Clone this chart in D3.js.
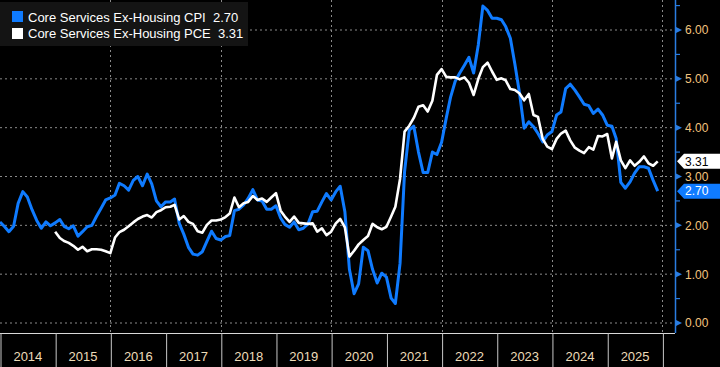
<!DOCTYPE html>
<html>
<head>
<meta charset="utf-8">
<script src="https://cdn.jsdelivr.net/npm/d3@7"></script>
<style>
  body { margin: 0; background: #000; }
  svg { display: block; }
</style>
</head>
<body>
<div id="chart"></div>
<script>
// Monthly series, Jan 2014 - Dec 2025 (YoY %)
const cpiStart = [2014, 0];
const cpiValues = [
  2.07, 1.97, 1.87, 1.98, 2.45, 2.69, 2.58, 2.32, 2.10, 1.94, 2.07, 1.99,
  2.05, 2.12, 1.98, 1.93, 1.99, 1.78, 1.87, 1.97, 2.00, 2.18, 2.35, 2.52,
  2.56, 2.62, 2.86, 2.81, 2.72, 2.92, 3.00, 2.81, 3.05, 2.85, 2.50, 2.38,
  2.48, 2.48, 2.54, 2.04, 1.82, 1.55, 1.41, 1.39, 1.46, 1.67, 1.88, 1.73,
  1.70, 1.77, 1.79, 2.30, 2.33, 2.42, 2.55, 2.73, 2.52, 2.50, 2.33, 2.33,
  2.40, 2.15, 2.02, 1.96, 2.07, 1.91, 1.94, 2.03, 2.28, 2.29, 2.48, 2.65,
  2.52, 2.69, 2.80, 2.28, 1.10, 0.60, 0.80, 1.55, 1.48, 1.10, 0.82, 1.02,
  0.94, 0.51, 0.40, 1.22, 3.10, 3.95, 4.03, 3.50, 3.08, 3.08, 3.50, 3.45,
  3.70, 4.20, 4.62, 4.95, 5.12, 5.28, 5.44, 5.12, 5.70, 6.49, 6.40, 6.24,
  6.24, 6.21, 6.07, 5.83, 5.30, 4.70, 3.99, 4.12, 4.02, 3.88, 3.71, 3.85,
  3.92, 4.26, 4.32, 4.80, 4.89, 4.77, 4.63, 4.48, 4.45, 4.29, 4.38, 4.26,
  4.05, 4.03, 3.78, 2.88, 2.76, 2.89, 3.07, 3.20, 3.20, 3.17, 2.92, 2.70
];

// Jan 2015 - Dec 2025
const pceStart = [2015, 0];
const pceValues = [
  1.87, 1.74, 1.68, 1.64, 1.58, 1.50, 1.56, 1.47, 1.51, 1.51, 1.50, 1.47,
  1.43, 1.75, 1.86, 1.91, 1.98, 2.06, 2.13, 2.18, 2.21, 2.16, 2.27, 2.31,
  2.37, 2.38, 2.42, 2.12, 2.19, 2.07, 2.03, 1.88, 1.85, 2.01, 2.10, 2.10,
  2.12, 2.17, 2.24, 2.57, 2.37, 2.45, 2.48, 2.60, 2.52, 2.55, 2.48, 2.57,
  2.66, 2.30, 2.18, 2.07, 2.18, 2.05, 2.04, 2.03, 2.04, 1.87, 1.94, 1.80,
  1.87, 2.04, 2.13, 1.96, 1.36, 1.48, 1.61, 1.70, 1.78, 2.03, 1.96, 1.92,
  1.97, 2.18, 2.38, 2.95, 3.92, 4.04, 4.20, 4.43, 4.46, 4.33, 4.55, 5.08,
  5.20, 5.04, 5.03, 5.03, 4.99, 5.03, 4.92, 4.67, 5.00, 5.24, 5.33, 5.15,
  4.98, 5.01, 4.97, 4.79, 4.77, 4.70, 4.56, 4.69, 4.26, 4.22, 3.77, 3.61,
  3.56, 3.77, 3.88, 3.94, 3.74, 3.59, 3.53, 3.48, 3.60, 3.55, 3.83, 3.82,
  3.87, 3.37, 3.71, 3.33, 3.17, 3.33, 3.22, 3.30, 3.41, 3.27, 3.22, 3.31
];

const seriesNames = ['Core Services Ex-Housing CPI', 'Core Services Ex-Housing PCE'];
const seriesColors = ['#0f7bff', '#ffffff'];
const yTicks = [0, 1, 2, 3, 4, 5, 6];
const yearLabels = d3.range(2014, 2026);

const toSeries = (start, values) =>
  values.map((v, i) => ({ date: new Date(start[0], start[1] + i, 1), value: v }));

const cpi = toSeries(cpiStart, cpiValues);
const pce = toSeries(pceStart, pceValues);

const width = 720, height = 367;
const plot = { left: 0, right: 675, top: 0, bottom: 333 };

const svg = d3.select('#chart')
  .append('svg')
  .attr('width', width)
  .attr('height', height)
  .style('background', '#000');

// scales
const x = d3.scaleTime()
  .domain([new Date(2014, 0, 1), new Date(2026, 0, 1)])
  .range([0, 662.4]);

const y = d3.scaleLinear()
  .domain([0, 6])
  .range([323, 30]);

// dotted grid
svg.append('g')
  .selectAll('line')
  .data(yTicks)
  .enter()
  .append('line')
    .attr('x1', plot.left)
    .attr('x2', plot.right)
    .attr('y1', d => y(d))
    .attr('y2', d => y(d))
    .attr('stroke', '#8a8a8a')
    .attr('stroke-width', 1)
    .attr('stroke-dasharray', '2,3');

svg.append('g')
  .selectAll('line')
  .data(d3.range(2016, 2027, 2))
  .enter()
  .append('line')
    .attr('x1', d => Math.round(x(new Date(d, 0, 1))) + 0.5)
    .attr('x2', d => Math.round(x(new Date(d, 0, 1))) + 0.5)
    .attr('y1', plot.top)
    .attr('y2', plot.bottom)
    .attr('stroke', '#8a8a8a')
    .attr('stroke-width', 1)
    .attr('stroke-dasharray', '2,3');

// legend
const legend = svg.append('g');
legend.append('rect')
  .attr('x', 0)
  .attr('y', 2)
  .attr('width', 248)
  .attr('height', 44)
  .attr('fill', '#141414');

const lastVals = [cpiValues[cpiValues.length - 1], pceValues[pceValues.length - 1]];
seriesNames.forEach((name, i) => {
  legend.append('rect')
    .attr('x', 12)
    .attr('y', 11 + i * 17)
    .attr('width', 11)
    .attr('height', 11)
    .attr('fill', seriesColors[i]);
  legend.append('text')
    .attr('x', 28)
    .attr('y', 21.5 + i * 16.5)
    .attr('fill', '#ffffff')
    .style('font-family', 'Liberation Sans, Arial, sans-serif')
    .style('font-size', '13px')
    .style('white-space', 'pre')
    .text(name + '  ' + lastVals[i].toFixed(2));
});

// lines
const line = d3.line()
  .x(d => x(d.date))
  .y(d => y(d.value));

svg.append('path')
  .datum(cpi)
  .attr('d', line)
  .attr('fill', 'none')
  .attr('stroke', seriesColors[0])
  .attr('stroke-width', 3)
  .attr('stroke-linejoin', 'round');

svg.append('path')
  .datum(pce)
  .attr('d', line)
  .attr('fill', 'none')
  .attr('stroke', seriesColors[1])
  .attr('stroke-width', 2.6)
  .attr('stroke-linejoin', 'round');

// right axis
const yAxis = svg.append('g')
  .attr('transform', `translate(${plot.right},0)`)
  .call(d3.axisRight(y)
    .tickValues(yTicks)
    .tickSize(0)
    .tickPadding(10)
    .tickFormat(d3.format('.2f')));

yAxis.select('.domain').remove();
yAxis.selectAll('text')
  .attr('fill', '#f3c47f')
  .style('font-family', 'Liberation Sans, Arial, sans-serif')
  .style('font-size', '12px');

yAxis.append('line')
  .attr('x1', 0.5).attr('x2', 0.5)
  .attr('y1', 0).attr('y2', plot.bottom)
  .attr('stroke', '#2a7de1')
  .attr('stroke-width', 1.5);

yAxis.selectAll('.minor')
  .data(d3.range(0.5, 7, 1))
  .enter()
  .append('line')
    .attr('x1', 0).attr('x2', 5)
    .attr('y1', d => y(d)).attr('y2', d => y(d))
    .attr('stroke', '#2a7de1')
    .attr('stroke-width', 1.2);

yAxis.selectAll('.marker')
  .data(yTicks)
  .enter()
  .append('path')
    .attr('d', d => `M0,${y(d) - 3.5}L7,${y(d)}L0,${y(d) + 3.5}Z`)
    .attr('fill', '#2a7de1');

// bottom axis
svg.append('line')
  .attr('x1', 0).attr('x2', plot.right)
  .attr('y1', plot.bottom + 0.5).attr('y2', plot.bottom + 0.5)
  .attr('stroke', '#d8d8d8')
  .attr('stroke-width', 1.2);

const xDividers = svg.append('g')
  .attr('transform', `translate(0.5,${plot.bottom})`)
  .call(d3.axisBottom(x)
    .tickValues(d3.range(2014, 2027).map(yr => new Date(yr, 0, 1)))
    .tickSize(height - plot.bottom)
    .tickFormat(''));
xDividers.select('.domain').remove();
xDividers.selectAll('line').attr('stroke', '#c8c8c8');

const xLabels = svg.append('g')
  .attr('transform', `translate(0,${plot.bottom})`)
  .call(d3.axisBottom(x)
    .tickValues(yearLabels.map(yr => new Date(yr, 6, 1)))
    .tickSize(0)
    .tickPadding(19)
    .tickFormat(d3.timeFormat('%Y')));
xLabels.select('.domain').remove();
xLabels.selectAll('text')
  .attr('fill', '#eddcb9')
  .style('font-family', 'Liberation Sans, Arial, sans-serif')
  .style('font-size', '13px');

// last-value tags
const tags = [
  { value: pceValues[pceValues.length - 1], fill: '#ffffff', text: '#000000' },
  { value: cpiValues[cpiValues.length - 1], fill: '#0f7bff', text: '#ffffff' }
];
tags.forEach(t => {
  const ty = y(t.value);
  svg.append('path')
    .attr('d', `M677,${ty}L684,${ty - 7.5}L720,${ty - 7.5}L720,${ty + 7.5}L684,${ty + 7.5}Z`)
    .attr('fill', t.fill);
  svg.append('text')
    .attr('x', 685)
    .attr('y', ty)
    .attr('dy', '0.35em')
    .attr('fill', t.text)
    .style('font-family', 'Liberation Sans, Arial, sans-serif')
    .style('font-size', '12px')
    .text(t.value.toFixed(2));
});
</script>
</body>
</html>
